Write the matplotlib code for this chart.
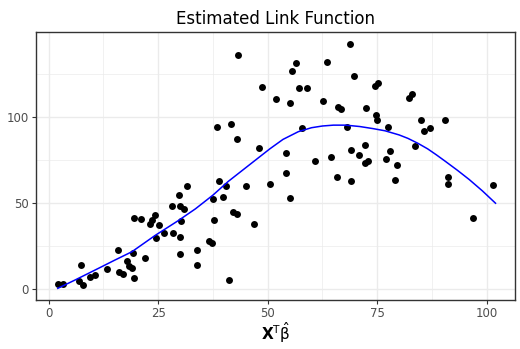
import matplotlib
matplotlib.use("Agg")
import matplotlib.pyplot as plt
import numpy as np

# scatter points
x_pts = [2.1, 3.4, 7.0, 7.9, 7.5, 9.4, 10.5, 13.4, 15.8, 16.0, 16.9, 17.9, 18.4,
         19.0, 19.3, 19.4, 19.6, 21.1, 22.1, 23.1, 23.6, 24.3, 25.1, 24.4, 26.4,
         28.2, 28.4, 29.7, 30.1, 30.8, 31.7, 30.3, 29.9, 30.0, 33.8, 33.9, 36.7,
         37.3, 37.5, 37.7, 39.0, 39.9, 40.5, 42.0, 42.9, 41.1, 45.0, 46.9, 50.5,
         54.1, 55.0, 60.8, 64.5, 65.8, 43.2, 38.5, 41.7, 43.0, 48.1, 48.6, 51.9,
         54.2, 55.0, 55.6, 56.5, 57.2, 59.0, 57.9, 62.7, 63.5, 66.1, 66.7, 68.2,
         68.9, 69.7, 69.1, 70.9, 72.1, 72.3, 73.0, 72.4, 74.4, 75.2, 74.8, 74.9,
         77.0, 77.5, 78.0, 79.5, 82.2, 83.0, 83.6, 84.9, 85.7, 87.1, 90.4, 69.0,
         79.1, 91.1, 91.1, 96.9, 101.4]
y_pts = [2.9, 2.9, 4.3, 2.1, 13.8, 6.6, 8.0, 11.4, 22.3, 9.5, 8.5, 15.9, 13.4,
         12.0, 20.7, 6.4, 40.9, 40.5, 17.8, 37.6, 39.9, 43.0, 37.0, 29.5, 32.4,
         48.3, 32.2, 54.8, 47.9, 46.7, 60.1, 39.5, 30.2, 20.2, 22.5, 13.8, 27.9,
         26.9, 52.3, 40.1, 62.6, 53.3, 59.7, 44.8, 43.4, 5.2, 60.1, 37.8, 61.2,
         67.4, 52.9, 74.2, 76.6, 65.3, 136.0, 94.2, 96.1, 87.4, 82.2, 117.3, 110.5,
         79.3, 108.3, 126.7, 131.8, 116.9, 116.9, 93.4, 109.5, 132.2, 106.0, 104.5, 94.4,
         142.6, 123.8, 81.0, 78.1, 83.5, 73.1, 74.4, 105.0, 118.0, 119.6, 101.2, 98.4,
         75.6, 94.0, 80.1, 72.3, 110.9, 113.4, 83.1, 98.4, 92.0, 93.4, 98.3, 62.8,
         63.5, 65.3, 60.9, 41.3, 60.6]

# estimated link curve
x_fit = [2.1, 6.0, 11.5, 15.0, 19.0, 24.3, 29.5, 33.5, 37.5, 41.0, 44.5, 47.5,
         50.5, 53.5, 57.0, 60.0, 62.5, 65.0, 67.8, 71.0, 74.0, 76.8, 80.0, 82.0,
         84.3, 86.5, 88.5, 90.5, 93.3, 96.0, 99.0, 102.0]
y_fit = [0.2, 5.0, 12.0, 16.5, 21.5, 31.0, 39.5, 46.5, 54.5, 62.5, 69.5, 75.5,
         81.5, 87.0, 91.5, 93.8, 94.8, 95.3, 95.3, 94.5, 93.3, 92.0, 89.6, 87.6,
         84.7, 81.5, 78.0, 74.3, 69.0, 63.6, 57.0, 49.8]

fig = plt.figure(figsize=(5.2, 3.49), dpi=100)
ax = fig.add_axes([0.069, 0.1404, 0.921, 0.768])

ax.scatter(x_pts, y_pts, s=25, color="black", zorder=3, linewidths=0)
ax.plot(x_fit, y_fit, color="blue", lw=1.1, zorder=4)

ax.set_xlim(-2.9, 106.4)
ax.set_ylim(-6.6, 149.6)
ax.set_xticks([0, 25, 50, 75, 100])
ax.set_yticks([0, 50, 100])
ax.set_xticks([12.5, 37.5, 62.5, 87.5], minor=True)
ax.set_yticks([25, 75, 125], minor=True)
ax.grid(which="major", color="#EBEBEB", lw=1.0, zorder=0)
ax.grid(which="minor", color="#EBEBEB", lw=0.5, zorder=0)
ax.tick_params(which="minor", length=0)
ax.tick_params(which="major", length=3, color="#333333", labelcolor="#4D4D4D",
               labelsize=8.5, pad=2)
for sp in ax.spines.values():
    sp.set_color("#333333")
    sp.set_linewidth(1.0)

ax.set_title("Estimated Link Function", fontsize=12, pad=6)
ax.set_xlabel(r"$\mathbf{X}^{\mathrm{T}}\hat{\mathrm{\beta}}$", fontsize=11, labelpad=0)

fig.savefig("out.png", dpi=100)
